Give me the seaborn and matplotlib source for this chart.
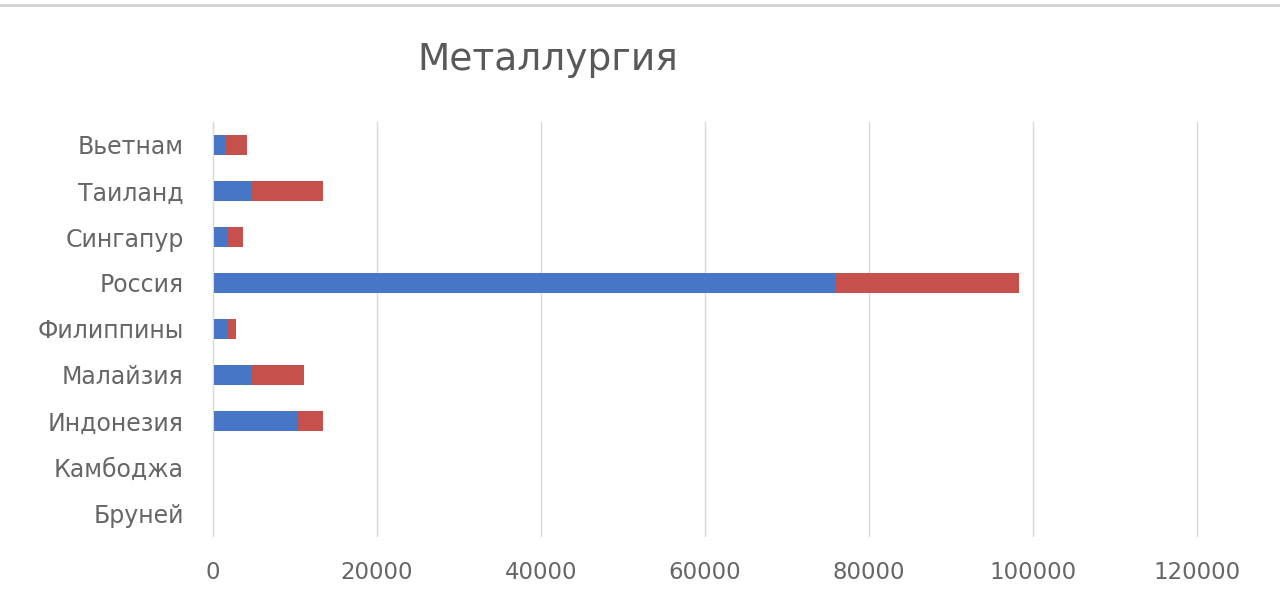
import pandas as pd
import seaborn as sns
import matplotlib.pyplot as plt

countries = ["Вьетнам", "Таиланд", "Сингапур", "Россия", "Филиппины",
             "Малайзия", "Индонезия", "Камбоджа", "Бруней"]
series1 = [1500, 4800, 1750, 75800, 1750, 4800, 10400, 0, 0]
series2 = [2700, 8600, 1850, 22500, 1100, 6300, 3000, 0, 0]
xticks = [0, 20000, 40000, 60000, 80000, 100000, 120000]

df = pd.DataFrame({"country": countries, "s1": series1, "s2": series2})
df["total"] = df["s1"] + df["s2"]

sns.set_style("white")
plt.rcParams["font.family"] = ["DejaVu Sans"]

fig = plt.figure(figsize=(12.8, 5.98), dpi=100)
ax = fig.add_axes([213 / 1280, 1 - 536 / 598, (1197 - 213) / 1280, (536 - 122) / 598])

# stacked: total in red, first series in blue on top
sns.barplot(data=df, y="country", x="total", orient="h", color="#C5504C",
            width=0.42, saturation=1, linewidth=0, ax=ax)
sns.barplot(data=df, y="country", x="s1", orient="h", color="#4776C6",
            width=0.42, saturation=1, linewidth=0, ax=ax)

ax.set_xlim(0, 120000)
ax.set_xticks(xticks)
ax.set_xticklabels([str(t) for t in xticks], color="#666666", fontsize=16.5)
ax.tick_params(axis="y", labelsize=17, labelcolor="#666666", length=0, pad=21)
ax.tick_params(axis="x", length=0, pad=18)
ax.set_xlabel("")
ax.set_ylabel("")
ax.grid(axis="x", color="#D9D9D9", linewidth=1)
for gl in ax.get_xgridlines():
    gl.set_clip_on(False)
ax.set_axisbelow(True)
for s in ["top", "right", "bottom"]:
    ax.spines[s].set_visible(False)
ax.spines["left"].set_color("#D9D9D9")

fig.text(548 / 1280, 1 - 60 / 598, "Металлургия", ha="center", va="center",
         fontsize=27, color="#595959")

# thin grey border at the top like the screenshot
fig.add_artist(plt.Line2D([0, 1], [1 - 5 / 598, 1 - 5 / 598], color="#D0D0D0",
                          linewidth=2, transform=fig.transFigure))

fig.savefig("out.png", dpi=100)
